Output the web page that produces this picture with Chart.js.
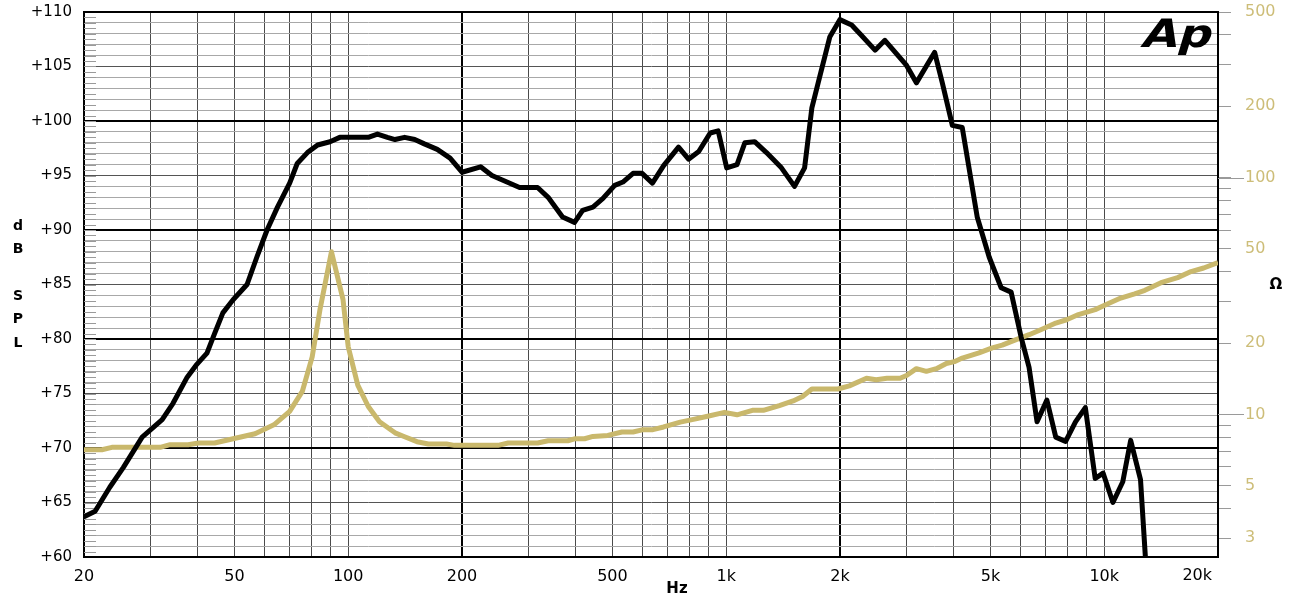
<!DOCTYPE html>
<html lang="en">
<head>
    <meta charset="UTF-8">
    <title>SPL and impedance</title>
    <script src="https://cdn.jsdelivr.net/npm/chart.js"></script>
    <style>
        body { margin: 0; background: #fff; }
    </style>
</head>
<body>
    <div style="width: 1302px; height: 605px;">
        <canvas id="splChart"></canvas>
    </div>
    <script>
        // frequency response (dB SPL)
        const splFreq = [20, 21.4, 23.4, 25.4, 28.5, 32.2, 34.4, 37.5, 39.6, 42.3, 44.3, 46.6, 49.6, 54, 57.3, 61, 65, 70, 73.3, 78, 83, 89.5, 95, 113, 119.5, 127, 133, 141, 150, 159, 172, 186,
            200, 224, 240, 263, 284, 317, 338, 369, 397, 417, 444, 472, 507, 533, 567, 599, 638, 683, 748, 795, 846, 907, 952,
            1003, 1068, 1120, 1189, 1278, 1400, 1516, 1612, 1685, 1751, 1879, 1998, 2147, 2258, 2476, 2629, 3000, 3185, 3560, 3730, 3965, 4212, 4613, 4964, 5338, 5672,
            6025, 6327, 6643, 7052, 7445, 7905, 8395, 8914, 9466, 9931, 10545, 11198, 11748, 12475, 12850];
        const splDb = [63.7, 64.2, 66.4, 68.2, 71.0, 72.6, 74.1, 76.5, 77.6, 78.7, 80.5, 82.4, 83.6, 85.0, 87.5, 90.0, 92.1, 94.3, 96.1, 97.1, 97.8, 98.1, 98.5, 98.5, 98.8, 98.5, 98.3, 98.5, 98.3, 97.9, 97.4, 96.6,
            95.3, 95.8, 95.0, 94.4, 93.9, 93.9, 93.0, 91.2, 90.7, 91.8, 92.1, 92.9, 94.1, 94.4, 95.2, 95.2, 94.3, 95.9, 97.6, 96.5, 97.2, 98.9, 99.1,
            95.7, 96.0, 98.0, 98.1, 97.1, 95.7, 94.0, 95.7, 101.2, 103.5, 107.7, 109.3, 108.8, 108.0, 106.5, 107.4, 105.1, 103.5, 106.3, 103.5, 99.6, 99.4, 91.2, 87.5, 84.7, 84.3,
            80.2, 77.4, 72.4, 74.4, 71.0, 70.6, 72.4, 73.7, 67.2, 67.7, 65.0, 66.9, 70.7, 67.1, 60.0];

        // impedance (ohm)
        const impFreq = [20, 22.3, 23.7, 31.8, 33.8, 37.7, 40.2, 44.3, 49.6, 56.7, 63.6, 70, 75.6, 80.3, 84.2, 90.3, 96.9, 100, 106, 113, 121, 133, 141, 152, 163, 182, 191,
            249, 265, 317, 338, 381, 397, 422, 444, 486, 530, 567, 603, 640, 683, 756, 819, 887, 990, 1068, 1173, 1254, 1382, 1503, 1592, 1685, 1975,
            2117, 2350, 2494, 2663, 2884, 3000, 3185, 3385, 3597, 3822, 4013, 4212, 4664, 5056, 5372, 5847, 6327, 6843, 7445, 7953, 8546, 9466,
            10228, 11060, 12035, 12814, 14135, 15640, 16970, 18330, 20000];
        const impOhm = [7.09, 7.09, 7.26, 7.26, 7.45, 7.45, 7.57, 7.57, 7.89, 8.29, 9.04, 10.3, 12.5, 17.5, 27.7, 48.6, 30.5, 19.3, 13.3, 10.8, 9.31, 8.36, 8.05, 7.67, 7.5, 7.5, 7.4,
            7.4, 7.57, 7.57, 7.74, 7.74, 7.89, 7.89, 8.07, 8.15, 8.43, 8.43, 8.62, 8.62, 8.85, 9.28, 9.53, 9.8, 10.2, 9.96, 10.4, 10.4, 10.9, 11.4, 11.9, 12.8, 12.8,
            13.2, 14.2, 14.0, 14.2, 14.2, 14.6, 15.6, 15.2, 15.6, 16.4, 16.7, 17.3, 18.2, 19.1, 19.6, 20.7, 21.7, 22.9, 24.3, 25.1, 26.4, 27.7,
            29.3, 31.0, 32.3, 33.4, 36.0, 37.8, 40.1, 41.5, 43.8];

        // axes
        const freqGrid = [20, 30, 40, 50, 60, 70, 80, 90, 100, 200, 300, 400, 500, 600, 700, 800, 900, 1000,
            2000, 3000, 4000, 5000, 6000, 7000, 8000, 9000, 10000, 20000];
        const freqLabels = { 20: '20', 50: '50', 100: '100', 200: '200', 500: '500', 1000: '1k', 2000: '2k', 5000: '5k', 10000: '10k' };
        const lastFreqLabel = '20k';
        const ohmTicks = [3, 4, 5, 6, 7, 8, 9, 10, 20, 30, 40, 50, 60, 70, 80, 90, 100, 200, 300, 400, 500];
        const ohmLabels = [3, 5, 10, 20, 50, 100, 200, 500];
        const dbSideLetters = ['d', 'B', '', 'S', 'P', 'L'];

        const gold = '#c9b86c';
        const goldText = '#cdbd78';
        const fontFam = "'DejaVu Sans', sans-serif";

        const splPoints = splFreq.map((f, i) => ({ x: f, y: splDb[i] }));
        const impPoints = impFreq.map((f, i) => ({ x: f, y: impOhm[i] }));

        const fixSide = s => {
            s.width = 84;
            s.paddingTop = 0;
            s.paddingBottom = 0;
        };

        const extras = {
            id: 'extras',
            beforeDatasetsDraw(chart) {
                const c = chart.ctx;
                const yL = chart.scales.yL;
                const area = chart.chartArea;
                c.save();
                c.strokeStyle = '#9a9a9a';
                c.lineWidth = 1;
                for (let v = 60.5; v < 110; v += 0.5) {
                    const y = Math.round(yL.getPixelForValue(v)) + 0.5;
                    c.beginPath();
                    c.moveTo(area.left, y);
                    c.lineTo(area.left + 12, y);
                    c.stroke();
                }
                c.restore();
            },
            afterDraw(chart) {
                const c = chart.ctx;
                const yR = chart.scales.yR;
                const x = chart.scales.x;
                const area = chart.chartArea;
                c.save();
                // longer ticks at 10 and 100
                c.strokeStyle = '#9a9a9a';
                c.lineWidth = 1;
                [10, 100].forEach(v => {
                    const y = Math.round(yR.getPixelForValue(v)) + 0.5;
                    c.beginPath();
                    c.moveTo(area.right, y);
                    c.lineTo(area.right + 26, y);
                    c.stroke();
                });
                c.fillStyle = '#000';
                // last frequency label sits inside the frame
                c.textAlign = 'right';
                c.textBaseline = 'middle';
                c.font = '16px ' + fontFam;
                c.fillText(lastFreqLabel, x.getPixelForValue(20000) - 6, 576);
                c.textAlign = 'center';
                c.font = 'bold 14px ' + fontFam;
                dbSideLetters.forEach((ch, i) => c.fillText(ch, 18, 226 + i * 23.4));
                c.font = 'bold 15px ' + fontFam;
                c.fillText('Hz', 677, 589);
                c.fillText('Ω', 1276, 285);
                // Ap logo
                c.translate(1140, 47);
                c.transform(1.2, 0, -0.3, 1, 0, 0);
                c.textAlign = 'left';
                c.textBaseline = 'alphabetic';
                c.font = 'bold 39px ' + fontFam;
                c.fillText('Ap', 0, 0);
                c.restore();
            }
        };

        const ctx = document.getElementById('splChart').getContext('2d');
        const chart = new Chart(ctx, {
            type: 'line',
            data: {
                datasets: [{
                    label: 'SPL',
                    data: splPoints,
                    yAxisID: 'yL',
                    borderColor: '#000',
                    borderWidth: 5,
                    borderJoinStyle: 'round',
                    pointRadius: 0,
                    tension: 0,
                    fill: false
                }, {
                    label: 'Impedance',
                    data: impPoints,
                    yAxisID: 'yR',
                    borderColor: gold,
                    borderWidth: 5,
                    borderJoinStyle: 'round',
                    pointRadius: 0,
                    tension: 0,
                    fill: false
                }]
            },
            options: {
                responsive: true,
                maintainAspectRatio: false,
                animation: false,
                layout: { padding: { top: 12, left: 0, right: 0, bottom: 0 } },
                plugins: {
                    legend: { display: false },
                    tooltip: { enabled: false }
                },
                scales: {
                    x: {
                        type: 'logarithmic',
                        min: 20,
                        max: 20000,
                        afterBuildTicks: s => { s.ticks = freqGrid.map(v => ({ value: v })); },
                        afterFit: s => { s.height = 48; },
                        ticks: {
                            autoSkip: false,
                            maxRotation: 0,
                            padding: 10,
                            color: '#000',
                            font: { family: fontFam, size: 16 },
                            callback: v => freqLabels[v] || ''
                        },
                        grid: {
                            drawTicks: false,
                            color: c => (c.tick && [20, 200, 2000, 20000].includes(c.tick.value)) ? '#000' : '#4a4a4a',
                            lineWidth: c => (c.tick && [20, 200, 2000, 20000].includes(c.tick.value)) ? 2 : 1
                        },
                        border: { color: '#000', width: 2 }
                    },
                    yL: {
                        type: 'linear',
                        position: 'left',
                        min: 60,
                        max: 110,
                        afterFit: fixSide,
                        ticks: {
                            stepSize: 1,
                            autoSkip: false,
                            padding: 12,
                            color: '#000',
                            font: { family: fontFam, size: 15 },
                            callback: v => (v % 5 === 0) ? '+' + v : ''
                        },
                        grid: {
                            drawTicks: false,
                            color: c => c.tick.value % 10 === 0 ? '#000' : (c.tick.value % 5 === 0 ? '#555' : '#a8a8a8'),
                            lineWidth: c => c.tick.value % 10 === 0 ? 2 : 1
                        },
                        border: { color: '#000', width: 2 }
                    },
                    yR: {
                        type: 'logarithmic',
                        position: 'right',
                        min: 2.5,
                        max: 500,
                        afterBuildTicks: s => { s.ticks = ohmTicks.map(v => ({ value: v })); },
                        afterFit: fixSide,
                        ticks: {
                            autoSkip: false,
                            padding: 14,
                            color: goldText,
                            font: { family: fontFam, size: 16 },
                            callback: v => ohmLabels.includes(v) ? String(v) : ''
                        },
                        grid: {
                            drawOnChartArea: false,
                            drawTicks: true,
                            tickLength: 13,
                            tickColor: '#9a9a9a',
                            tickWidth: 1
                        },
                        border: { color: '#000', width: 2 }
                    }
                }
            },
            plugins: [extras]
        });
    </script>
</body>
</html>
